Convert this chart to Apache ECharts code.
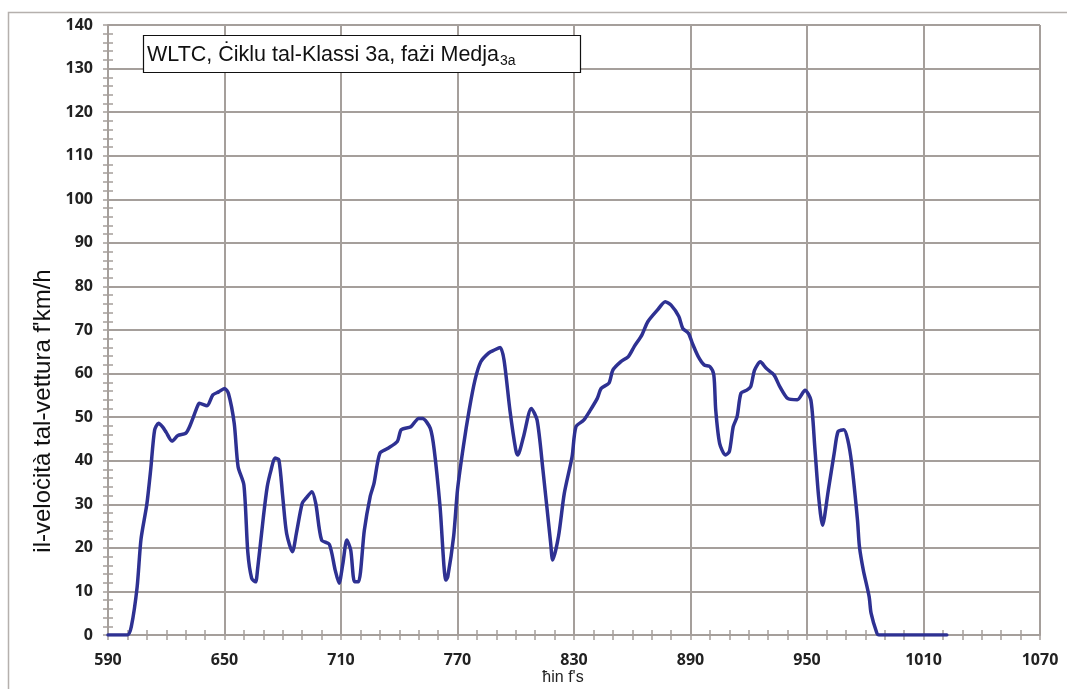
<!DOCTYPE html>
<html>
<head>
<meta charset="utf-8">
<title>WLTC Klassi 3a — fażi Medja</title>
<script src="https://cdn.jsdelivr.net/npm/echarts@6/dist/echarts.min.js"></script>
<style>
  html, body { margin: 0; padding: 0; background: #ffffff; }
  #chart { width: 1067px; height: 689px; }
</style>
</head>
<body>
<div id="chart"></div>
<script>
// Time stamps (s) and vehicle speed (km/h) of the medium-speed phase
const timeS = [
  590, 600, 602, 605, 607, 610, 612, 614, 616, 618, 620, 623, 626, 630, 632, 636, 637, 641, 644, 647,
  650, 652, 655, 657, 660, 662, 664, 666, 667, 670, 672, 674, 676, 678, 680, 682, 685, 687, 690, 692,
  695, 697, 700, 704, 707, 709, 711, 713, 715, 717, 719, 722, 725, 727, 730, 734, 739, 741, 746, 750,
  752, 756, 758, 761, 764, 765, 768, 770, 773, 776, 779, 782, 786, 789, 792, 794, 797, 800, 801, 804,
  808, 811, 814, 818, 819, 822, 825, 829, 831, 835, 838, 842, 844, 848, 850, 854, 858, 861, 865, 868,
  873, 877, 880, 884, 886, 889, 891, 894, 897, 900, 902, 903, 905, 908, 910, 912, 914, 916, 919, 921,
  923, 926, 929, 933, 936, 940, 945, 949, 952, 954, 956, 958, 961, 964, 966, 969, 971, 973, 976, 977,
  979, 982, 983, 986, 987, 1022
];
const speedKmh = [
  0, 0, 1.9, 11, 22, 30, 38, 47, 48.6, 47.8, 46.5, 44.5, 45.8, 46.3, 47.8, 52.4, 53.2, 52.6, 55.1, 55.8,
  56.6, 55.5, 48.6, 38.6, 34.4, 19, 13, 12.2, 14.9, 27, 34, 37.9, 40.6, 40.2, 31.7, 23.3, 19.1, 23.3, 30.2, 31.4,
  32.9, 30.2, 21.8, 20.8, 14.9, 11.9, 16.5, 21.8, 19.5, 12.2, 12.2, 24, 31.7, 34.8, 41.7, 42.8, 44.4, 47.1, 47.8, 49.7,
  49.7, 47.4, 42.5, 29.5, 12.6, 13.4, 22.6, 33.3, 43.2, 51.6, 58.5, 62.7, 64.7, 65.4, 66, 63, 51.6, 42.5, 41.3, 45.5,
  52, 49.3, 37.9, 21, 17.2, 22.6, 32.5, 40.9, 47.8, 49.3, 51.3, 54.3, 56.6, 57.8, 60.8, 62.7, 63.9, 66.2, 68.9, 71.9,
  74.6, 76.5, 75.7, 73.1, 70.4, 69.2, 66.9, 63.9, 62, 61.6, 59.7, 51.6, 44, 41.3, 42.1, 47.8, 50.1, 55.5, 56.2, 57,
  60.8, 62.7, 61.2, 59.7, 57, 54.3, 54, 56.2, 53.9, 43.2, 31.7, 25.2, 33.3, 41.7, 46.7, 47.1, 44.8, 39.4, 26.4, 20.3,
  14.9, 8.8, 5, 0.4, 0, 0
];

// Axis ranges and labels
const xRange = [590, 1070];
const xStep = 60;
const yRange = [0, 140];
const yStep = 10;

const titleMain = 'WLTC, Ċiklu tal-Klassi 3a, fażi Medja';
const titleSub = '3a';
const yName = "il-veloċità tal-vettura f'km/h";
const xName = "ħin f's";

const gridColor = '#a59f9b';
const labelFont = { fontFamily: 'Open Sans', fontWeight: 'bold', fontSize: 16, color: '#222222' };
const plainNumber = v => String(v);

const seriesData = timeS.map((t, i) => [t, speedKmh[i]]);

function xAxisBase(extra) {
  return Object.assign({
    type: 'value', position: 'bottom', gridIndex: 0,
    min: xRange[0], max: xRange[1], interval: xStep
  }, extra);
}
function yAxisBase(extra) {
  return Object.assign({
    type: 'value', position: 'left', gridIndex: 0,
    min: yRange[0], max: yRange[1], interval: yStep
  }, extra);
}

const chart = echarts.init(document.getElementById('chart'), null, { renderer: 'canvas' });

chart.setOption({
  animation: false,
  backgroundColor: '#ffffff',
  grid: { left: 108, right: 27, top: 25, bottom: 54, containLabel: false },
  xAxis: [
    xAxisBase({
      axisLine: { show: true, lineStyle: { color: gridColor, width: 2 } },
      axisTick: { show: true, inside: false, length: 5, lineStyle: { color: gridColor, width: 1.5 } },
      minorTick: { show: true, splitNumber: 6, length: 5, lineStyle: { color: gridColor, width: 1.5 } },
      splitLine: { show: true, lineStyle: { color: gridColor, width: 2 } },
      axisLabel: Object.assign({ margin: 17, formatter: plainNumber }, labelFont)
    }),
    // tick marks on the inner side so they cross the axis line
    xAxisBase({
      axisLine: { show: false },
      axisTick: { show: true, inside: true, length: 5, lineStyle: { color: gridColor, width: 1.5 } },
      minorTick: { show: true, splitNumber: 6, length: 5, lineStyle: { color: gridColor, width: 1.5 } },
      splitLine: { show: false },
      axisLabel: { show: false }
    })
  ],
  yAxis: [
    yAxisBase({
      axisLine: { show: true, lineStyle: { color: gridColor, width: 2 } },
      axisTick: { show: true, inside: false, length: 5, lineStyle: { color: gridColor, width: 1.5 } },
      minorTick: { show: true, splitNumber: 5, length: 5, lineStyle: { color: gridColor, width: 1.5 } },
      splitLine: { show: true, lineStyle: { color: gridColor, width: 2 } },
      axisLabel: Object.assign({ margin: 15, formatter: plainNumber }, labelFont)
    }),
    yAxisBase({
      axisLine: { show: false },
      axisTick: { show: true, inside: true, length: 5, lineStyle: { color: gridColor, width: 1.5 } },
      minorTick: { show: true, splitNumber: 5, length: 5, lineStyle: { color: gridColor, width: 1.5 } },
      splitLine: { show: false },
      axisLabel: { show: false }
    })
  ],
  series: [{
    type: 'line',
    xAxisIndex: 0,
    yAxisIndex: 0,
    data: seriesData,
    smooth: 0.25,
    showSymbol: false,
    lineStyle: { color: '#2e3192', width: 3.5, join: 'round', cap: 'round' },
    z: 5
  }],
  graphic: [
    // outer frame
    {
      type: 'rect', silent: true, z: -1,
      shape: { x: 8.5, y: 12.5, width: 1100, height: 700 },
      style: { fill: null, stroke: '#b5b0ad', lineWidth: 1.5 }
    },
    // caption box
    {
      type: 'rect', silent: true, z: 10,
      shape: { x: 143.5, y: 35.5, width: 437, height: 37 },
      style: { fill: '#ffffff', stroke: '#111111', lineWidth: 1.2 }
    },
    {
      type: 'text', silent: true, z: 11,
      x: 147, y: 55,
      style: {
        text: '{m|' + titleMain + '}{s|' + titleSub + '}',
        verticalAlign: 'middle',
        rich: {
          m: { fontFamily: 'Liberation Sans', fontSize: 21.5, fill: '#111111', lineHeight: 26, verticalAlign: 'middle' },
          s: { fontFamily: 'Liberation Sans', fontSize: 14, fill: '#111111', lineHeight: 26, verticalAlign: 'bottom', padding: [0, 0, 0, 1] }
        }
      }
    },
    // axis names
    {
      type: 'text', silent: true,
      x: 43, y: 411, rotation: Math.PI / 2,
      style: {
        text: yName, align: 'center', verticalAlign: 'middle',
        fontFamily: 'Liberation Sans', fontSize: 24, fill: '#111111'
      }
    },
    {
      type: 'text', silent: true,
      x: 563, y: 678,
      style: {
        text: xName, align: 'center', verticalAlign: 'middle',
        fontFamily: 'Liberation Sans', fontSize: 16, fill: '#222222'
      }
    }
  ]
});
</script>
</body>
</html>
